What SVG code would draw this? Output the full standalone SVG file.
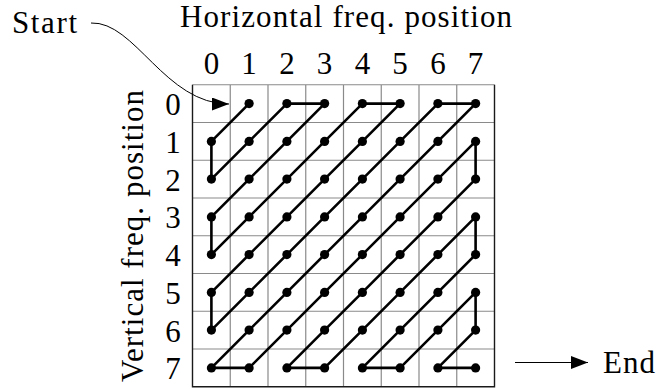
<svg xmlns="http://www.w3.org/2000/svg" width="657" height="389" viewBox="0 0 657 389">
<style>
text{font-family:"Liberation Serif","DejaVu Serif",serif;font-size:31px;fill:#000}
.num{text-anchor:middle}
.gi{stroke:#8a8a8a;stroke-width:1.2;fill:none}
.go{stroke:#1a1a1a;stroke-width:1.4;fill:none}
.zz{stroke:#000;stroke-width:2.6;fill:none;stroke-linejoin:round;stroke-linecap:round}
.thin{stroke:#000;stroke-width:1;fill:none}
.dot{fill:#000}
</style>
<defs>
<marker id="arr" markerUnits="userSpaceOnUse" markerWidth="18" markerHeight="14" refX="17" refY="6.5" orient="auto">
<path d="M0,0 L17,6.5 L0,13 Z" fill="#000"/>
</marker>
</defs>
<rect width="657" height="389" fill="#fff"/>
<g id="grid">
<path class="gi" d="M230.25,84.75V386.75M268,84.75V386.75M305.75,84.75V386.75M343.5,84.75V386.75M381.25,84.75V386.75M419,84.75V386.75M456.75,84.75V386.75M192.5,122.5H494.5M192.5,160.25H494.5M192.5,198H494.5M192.5,235.75H494.5M192.5,273.5H494.5M192.5,311.25H494.5M192.5,349H494.5M192.5,84.75H494.5"/>
<path class="go" d="M192.5,84.75V386.75H494.5V84.75"/>
</g>
<g id="labels">
<text x="180" y="27" textLength="332" lengthAdjust="spacing">Horizontal freq. position</text>
<text transform="translate(143,382) rotate(-90)" x="0" y="0" textLength="292" lengthAdjust="spacing">Vertical freq. position</text>
<text x="12" y="33" textLength="65" lengthAdjust="spacing">Start</text>
<text x="603" y="373" textLength="52" lengthAdjust="spacing">End</text>
<g id="col-labels">
<text class="num" x="211.4" y="74">0</text>
<text class="num" x="249.1" y="74">1</text>
<text class="num" x="286.9" y="74">2</text>
<text class="num" x="324.6" y="74">3</text>
<text class="num" x="362.4" y="74">4</text>
<text class="num" x="400.1" y="74">5</text>
<text class="num" x="437.9" y="74">6</text>
<text class="num" x="475.6" y="74">7</text>
</g>
<g id="row-labels">
<text class="num" x="173" y="115">0</text>
<text class="num" x="173" y="152.8">1</text>
<text class="num" x="173" y="190.5">2</text>
<text class="num" x="173" y="228.3">3</text>
<text class="num" x="173" y="266">4</text>
<text class="num" x="173" y="303.8">5</text>
<text class="num" x="173" y="341.5">6</text>
<text class="num" x="173" y="379.3">7</text>
</g>
</g>
<g id="connectors">
<path id="start-arrow" class="thin" d="M91,23 C135,21 165,104 229,104" marker-end="url(#arr)"/>
<path id="end-arrow" class="thin" d="M515,362.5 H588" marker-end="url(#arr)"/>
<polyline id="zigzag" class="zz" points="249.1,103.6 211.4,141.4 211.4,179.1 249.1,141.4 286.9,103.6 324.6,103.6 286.9,141.4 249.1,179.1 211.4,216.9 211.4,254.6 249.1,216.9 286.9,179.1 324.6,141.4 362.4,103.6 400.1,103.6 362.4,141.4 324.6,179.1 286.9,216.9 249.1,254.6 211.4,292.4 211.4,330.1 249.1,292.4 286.9,254.6 324.6,216.9 362.4,179.1 400.1,141.4 437.9,103.6 475.6,103.6 437.9,141.4 400.1,179.1 362.4,216.9 324.6,254.6 286.9,292.4 249.1,330.1 211.4,367.9 249.1,367.9 286.9,330.1 324.6,292.4 362.4,254.6 400.1,216.9 437.9,179.1 475.6,141.4 475.6,179.1 437.9,216.9 400.1,254.6 362.4,292.4 324.6,330.1 286.9,367.9 324.6,367.9 362.4,330.1 400.1,292.4 437.9,254.6 475.6,216.9 475.6,254.6 437.9,292.4 400.1,330.1 362.4,367.9 400.1,367.9 437.9,330.1 475.6,292.4 475.6,330.1 437.9,367.9 475.6,367.9"/>
</g>
<g id="dots" class="dot">
<circle cx="249.1" cy="103.6" r="4.6"/><circle cx="286.9" cy="103.6" r="4.6"/><circle cx="324.6" cy="103.6" r="4.6"/><circle cx="362.4" cy="103.6" r="4.6"/><circle cx="400.1" cy="103.6" r="4.6"/><circle cx="437.9" cy="103.6" r="4.6"/><circle cx="475.6" cy="103.6" r="4.6"/>
<circle cx="211.4" cy="141.4" r="4.6"/><circle cx="249.1" cy="141.4" r="4.6"/><circle cx="286.9" cy="141.4" r="4.6"/><circle cx="324.6" cy="141.4" r="4.6"/><circle cx="362.4" cy="141.4" r="4.6"/><circle cx="400.1" cy="141.4" r="4.6"/><circle cx="437.9" cy="141.4" r="4.6"/><circle cx="475.6" cy="141.4" r="4.6"/>
<circle cx="211.4" cy="179.1" r="4.6"/><circle cx="249.1" cy="179.1" r="4.6"/><circle cx="286.9" cy="179.1" r="4.6"/><circle cx="324.6" cy="179.1" r="4.6"/><circle cx="362.4" cy="179.1" r="4.6"/><circle cx="400.1" cy="179.1" r="4.6"/><circle cx="437.9" cy="179.1" r="4.6"/><circle cx="475.6" cy="179.1" r="4.6"/>
<circle cx="211.4" cy="216.9" r="4.6"/><circle cx="249.1" cy="216.9" r="4.6"/><circle cx="286.9" cy="216.9" r="4.6"/><circle cx="324.6" cy="216.9" r="4.6"/><circle cx="362.4" cy="216.9" r="4.6"/><circle cx="400.1" cy="216.9" r="4.6"/><circle cx="437.9" cy="216.9" r="4.6"/><circle cx="475.6" cy="216.9" r="4.6"/>
<circle cx="211.4" cy="254.6" r="4.6"/><circle cx="249.1" cy="254.6" r="4.6"/><circle cx="286.9" cy="254.6" r="4.6"/><circle cx="324.6" cy="254.6" r="4.6"/><circle cx="362.4" cy="254.6" r="4.6"/><circle cx="400.1" cy="254.6" r="4.6"/><circle cx="437.9" cy="254.6" r="4.6"/><circle cx="475.6" cy="254.6" r="4.6"/>
<circle cx="211.4" cy="292.4" r="4.6"/><circle cx="249.1" cy="292.4" r="4.6"/><circle cx="286.9" cy="292.4" r="4.6"/><circle cx="324.6" cy="292.4" r="4.6"/><circle cx="362.4" cy="292.4" r="4.6"/><circle cx="400.1" cy="292.4" r="4.6"/><circle cx="437.9" cy="292.4" r="4.6"/><circle cx="475.6" cy="292.4" r="4.6"/>
<circle cx="211.4" cy="330.1" r="4.6"/><circle cx="249.1" cy="330.1" r="4.6"/><circle cx="286.9" cy="330.1" r="4.6"/><circle cx="324.6" cy="330.1" r="4.6"/><circle cx="362.4" cy="330.1" r="4.6"/><circle cx="400.1" cy="330.1" r="4.6"/><circle cx="437.9" cy="330.1" r="4.6"/><circle cx="475.6" cy="330.1" r="4.6"/>
<circle cx="211.4" cy="367.9" r="4.6"/><circle cx="249.1" cy="367.9" r="4.6"/><circle cx="286.9" cy="367.9" r="4.6"/><circle cx="324.6" cy="367.9" r="4.6"/><circle cx="362.4" cy="367.9" r="4.6"/><circle cx="400.1" cy="367.9" r="4.6"/><circle cx="437.9" cy="367.9" r="4.6"/><circle cx="475.6" cy="367.9" r="4.6"/>
</g>
</svg>
